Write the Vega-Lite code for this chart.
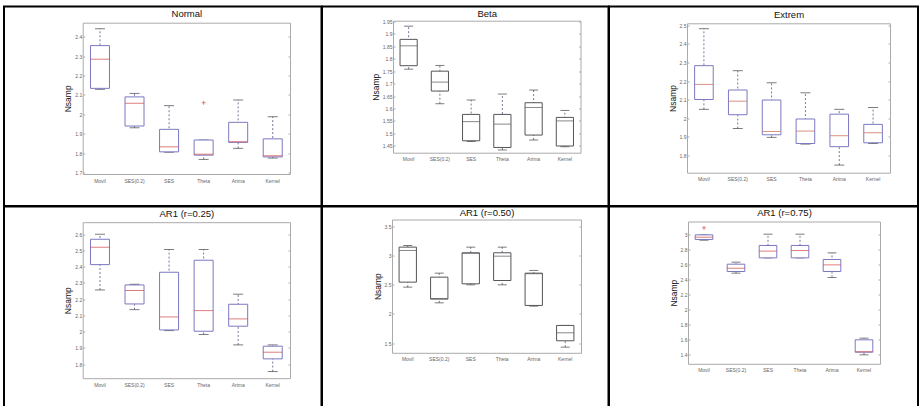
{
  "$schema": "https://vega.github.io/schema/vega-lite/v6.json",
  "padding": {"left": 3, "top": 5.5, "right": 0, "bottom": 0},
  "background": "white",
  "datasets": {
    "boxes": [
      {"panel": "Normal", "method": "Movil", "lw": 2.129, "q1": 2.134, "med": 2.284, "q3": 2.354, "uw": 2.441},
      {"panel": "Normal", "method": "SES(0.2)", "lw": 1.931, "q1": 1.94, "med": 2.057, "q3": 2.09, "uw": 2.108},
      {"panel": "Normal", "method": "SES", "lw": 1.805, "q1": 1.807, "med": 1.833, "q3": 1.923, "uw": 2.045},
      {"panel": "Normal", "method": "Theta", "lw": 1.768, "q1": 1.79, "med": 1.795, "q3": 1.868, "uw": 1.868, "out": 2.06},
      {"panel": "Normal", "method": "Arima", "lw": 1.825, "q1": 1.856, "med": 1.859, "q3": 1.959, "uw": 2.074},
      {"panel": "Normal", "method": "Kernel", "lw": 1.775, "q1": 1.781, "med": 1.787, "q3": 1.874, "uw": 1.988},
      {"panel": "Beta", "method": "Movil", "lw": 1.758, "q1": 1.772, "med": 1.852, "q3": 1.878, "uw": 1.931},
      {"panel": "Beta", "method": "SES(0.2)", "lw": 1.619, "q1": 1.67, "med": 1.706, "q3": 1.75, "uw": 1.773},
      {"panel": "Beta", "method": "SES", "lw": 1.467, "q1": 1.47, "med": 1.547, "q3": 1.576, "uw": 1.634},
      {"panel": "Beta", "method": "Theta", "lw": 1.433, "q1": 1.443, "med": 1.537, "q3": 1.576, "uw": 1.658},
      {"panel": "Beta", "method": "Arima", "lw": 1.473, "q1": 1.493, "med": 1.604, "q3": 1.623, "uw": 1.674},
      {"panel": "Beta", "method": "Kernel", "lw": 1.446, "q1": 1.449, "med": 1.55, "q3": 1.564, "uw": 1.592},
      {"panel": "Extrem", "method": "Movil", "lw": 2.048, "q1": 2.101, "med": 2.182, "q3": 2.283, "uw": 2.482},
      {"panel": "Extrem", "method": "SES(0.2)", "lw": 1.945, "q1": 2.019, "med": 2.092, "q3": 2.152, "uw": 2.256},
      {"panel": "Extrem", "method": "SES", "lw": 1.897, "q1": 1.911, "med": 1.929, "q3": 2.098, "uw": 2.191},
      {"panel": "Extrem", "method": "Theta", "lw": 1.861, "q1": 1.864, "med": 1.931, "q3": 1.996, "uw": 2.137},
      {"panel": "Extrem", "method": "Arima", "lw": 1.748, "q1": 1.847, "med": 1.906, "q3": 2.022, "uw": 2.048},
      {"panel": "Extrem", "method": "Kernel", "lw": 1.864, "q1": 1.868, "med": 1.922, "q3": 1.967, "uw": 2.058},
      {"panel": "AR1 (r=0.25)", "method": "Movil", "lw": 2.257, "q1": 2.413, "med": 2.52, "q3": 2.569, "uw": 2.6},
      {"panel": "AR1 (r=0.25)", "method": "SES(0.2)", "lw": 2.136, "q1": 2.171, "med": 2.253, "q3": 2.288, "uw": 2.292},
      {"panel": "AR1 (r=0.25)", "method": "SES", "lw": 2.007, "q1": 2.011, "med": 2.091, "q3": 2.366, "uw": 2.506},
      {"panel": "AR1 (r=0.25)", "method": "Theta", "lw": 1.983, "q1": 2.003, "med": 2.13, "q3": 2.44, "uw": 2.506},
      {"panel": "AR1 (r=0.25)", "method": "Arima", "lw": 1.919, "q1": 2.034, "med": 2.079, "q3": 2.169, "uw": 2.231},
      {"panel": "AR1 (r=0.25)", "method": "Kernel", "lw": 1.755, "q1": 1.833, "med": 1.874, "q3": 1.911, "uw": 1.919},
      {"panel": "AR1 (r=0.50)", "method": "Movil", "lw": 2.46, "q1": 2.546, "med": 3.089, "q3": 3.146, "uw": 3.174},
      {"panel": "AR1 (r=0.50)", "method": "SES(0.2)", "lw": 2.191, "q1": 2.255, "med": 2.265, "q3": 2.631, "uw": 2.7},
      {"panel": "AR1 (r=0.50)", "method": "SES", "lw": 2.5, "q1": 2.517, "med": 3.04, "q3": 3.049, "uw": 3.146},
      {"panel": "AR1 (r=0.50)", "method": "Theta", "lw": 2.5, "q1": 2.574, "med": 2.991, "q3": 3.049, "uw": 3.146},
      {"panel": "AR1 (r=0.50)", "method": "Arima", "lw": 2.134, "q1": 2.146, "med": 2.69, "q3": 2.7, "uw": 2.746},
      {"panel": "AR1 (r=0.50)", "method": "Kernel", "lw": 1.431, "q1": 1.54, "med": 1.677, "q3": 1.803, "uw": 1.803},
      {"panel": "AR1 (r=0.75)", "method": "Movil", "lw": 2.92, "q1": 2.929, "med": 2.96, "q3": 2.991, "uw": 2.991, "out": 3.084},
      {"panel": "AR1 (r=0.75)", "method": "SES(0.2)", "lw": 2.483, "q1": 2.505, "med": 2.549, "q3": 2.602, "uw": 2.629},
      {"panel": "AR1 (r=0.75)", "method": "SES", "lw": 2.686, "q1": 2.686, "med": 2.775, "q3": 2.85, "uw": 3.0},
      {"panel": "AR1 (r=0.75)", "method": "Theta", "lw": 2.686, "q1": 2.686, "med": 2.783, "q3": 2.85, "uw": 3.0},
      {"panel": "AR1 (r=0.75)", "method": "Arima", "lw": 2.425, "q1": 2.505, "med": 2.593, "q3": 2.664, "uw": 2.752},
      {"panel": "AR1 (r=0.75)", "method": "Kernel", "lw": 1.4, "q1": 1.435, "med": 1.44, "q3": 1.599, "uw": 1.621}
    ]
  },
  "data": {"name": "boxes"},
  "columns": 3,
  "spacing": 0,
  "bounds": "flush",
  "concat": [
    {
      "width": 317.5, "height": 199.5,
      "transform": [{"filter": "datum.panel === 'Normal'"}],
      "resolve": {"axis": {"x": "independent", "y": "independent"}},
      "layer": [
        {"mark": {"type": "rule", "strokeDash": [2, 2], "color": "#77779f"},
         "encoding": {
           "x": {"field": "method", "type": "nominal", "sort": ["Movil", "SES(0.2)", "SES", "Theta", "Arima", "Kernel"], "scale": {"range": [78.7, 286], "paddingInner": 0, "paddingOuter": 0}, "axis": {"orient": "bottom", "offset": -32, "title": null}},
           "y": {"field": "lw", "type": "quantitative", "scale": {"domain": [1.693, 2.472], "range": [167.5, 16.2], "nice": false, "zero": false}, "axis": {"orient": "left", "offset": -78.7, "title": "Nsamp", "values": [1.7, 1.8, 1.9, 2, 2.1, 2.2, 2.3, 2.4], "format": "~g"}},
           "y2": {"field": "uw"}}},
        {"mark": {"type": "tick", "size": 10, "color": "#444"},
         "encoding": {
           "x": {"field": "method", "type": "nominal", "sort": ["Movil", "SES(0.2)", "SES", "Theta", "Arima", "Kernel"], "axis": {"orient": "top", "offset": -16.2, "title": "Normal", "titlePadding": 4}},
           "y": {"field": "lw", "type": "quantitative", "axis": {"orient": "right", "offset": -31.5, "title": null, "values": [1.7, 1.8, 1.9, 2, 2.1, 2.2, 2.3, 2.4]}}}},
        {"mark": {"type": "tick", "size": 10, "color": "#444"},
         "encoding": {
           "x": {"field": "method", "type": "nominal", "sort": ["Movil", "SES(0.2)", "SES", "Theta", "Arima", "Kernel"], "axis": null},
           "y": {"field": "uw", "type": "quantitative", "axis": null}}},
        {"mark": {"type": "bar", "fill": "white", "stroke": "#7b78c2", "strokeWidth": 1, "width": {"band": 0.55}},
         "encoding": {
           "x": {"field": "method", "type": "nominal", "sort": ["Movil", "SES(0.2)", "SES", "Theta", "Arima", "Kernel"], "axis": null},
           "y": {"field": "q1", "type": "quantitative", "axis": null},
           "y2": {"field": "q3"}}},
        {"mark": {"type": "tick", "size": 19, "color": "#d04545"},
         "encoding": {
           "x": {"field": "method", "type": "nominal", "sort": ["Movil", "SES(0.2)", "SES", "Theta", "Arima", "Kernel"], "axis": null},
           "y": {"field": "med", "type": "quantitative", "axis": null}}},
        {"mark": {"type": "point", "shape": "M-1,0L1,0M0,-1L0,1", "size": 16, "filled": false, "color": "#d04545", "strokeWidth": 1},
         "encoding": {
           "x": {"field": "method", "type": "nominal", "sort": ["Movil", "SES(0.2)", "SES", "Theta", "Arima", "Kernel"], "axis": null},
           "y": {"field": "out", "type": "quantitative", "axis": null}}}
      ]
    },
    {
      "width": 286.5, "height": 199.5,
      "transform": [{"filter": "datum.panel === 'Beta'"}],
      "resolve": {"axis": {"x": "independent", "y": "independent"}},
      "layer": [
        {"mark": {"type": "rule", "strokeDash": [2, 2], "color": "#77779f"},
         "encoding": {
           "x": {"field": "method", "type": "nominal", "sort": ["Movil", "SES(0.2)", "SES", "Theta", "Arima", "Kernel"], "scale": {"range": [71, 258.5], "paddingInner": 0, "paddingOuter": 0}, "axis": {"orient": "bottom", "offset": -53.3, "title": null}},
           "y": {"field": "lw", "type": "quantitative", "scale": {"domain": [1.422, 1.953], "range": [146.2, 14.2], "nice": false, "zero": false}, "axis": {"orient": "left", "offset": -71, "title": "Nsamp", "values": [1.45, 1.5, 1.55, 1.6, 1.65, 1.7, 1.75, 1.8, 1.85, 1.9, 1.95], "format": "~g"}},
           "y2": {"field": "uw"}}},
        {"mark": {"type": "tick", "size": 9, "color": "#444"},
         "encoding": {
           "x": {"field": "method", "type": "nominal", "sort": ["Movil", "SES(0.2)", "SES", "Theta", "Arima", "Kernel"], "axis": {"orient": "top", "offset": -14.2, "title": "Beta", "titlePadding": 2}},
           "y": {"field": "lw", "type": "quantitative", "axis": {"orient": "right", "offset": -28, "title": null, "values": [1.45, 1.5, 1.55, 1.6, 1.65, 1.7, 1.75, 1.8, 1.85, 1.9, 1.95]}}}},
        {"mark": {"type": "tick", "size": 9, "color": "#444"},
         "encoding": {
           "x": {"field": "method", "type": "nominal", "sort": ["Movil", "SES(0.2)", "SES", "Theta", "Arima", "Kernel"], "axis": null},
           "y": {"field": "uw", "type": "quantitative", "axis": null}}},
        {"mark": {"type": "bar", "fill": "white", "stroke": "#555", "strokeWidth": 1, "width": {"band": 0.55}},
         "encoding": {
           "x": {"field": "method", "type": "nominal", "sort": ["Movil", "SES(0.2)", "SES", "Theta", "Arima", "Kernel"], "axis": null},
           "y": {"field": "q1", "type": "quantitative", "axis": null},
           "y2": {"field": "q3"}}},
        {"mark": {"type": "tick", "size": 17, "color": "#555"},
         "encoding": {
           "x": {"field": "method", "type": "nominal", "sort": ["Movil", "SES(0.2)", "SES", "Theta", "Arima", "Kernel"], "axis": null},
           "y": {"field": "med", "type": "quantitative", "axis": null}}}
      ]
    },
    {
      "width": 309, "height": 199.5,
      "transform": [{"filter": "datum.panel === 'Extrem'"}],
      "resolve": {"axis": {"x": "independent", "y": "independent"}},
      "layer": [
        {"mark": {"type": "rule", "strokeDash": [2, 2], "color": "#77779f"},
         "encoding": {
           "x": {"field": "method", "type": "nominal", "sort": ["Movil", "SES(0.2)", "SES", "Theta", "Arima", "Kernel"], "scale": {"range": [78, 281], "paddingInner": 0, "paddingOuter": 0}, "axis": {"orient": "bottom", "offset": -33.3, "title": null}},
           "y": {"field": "lw", "type": "quantitative", "scale": {"domain": [1.707, 2.511], "range": [166.2, 16.8], "nice": false, "zero": false}, "axis": {"orient": "left", "offset": -78, "title": "Nsamp", "values": [1.8, 1.9, 2, 2.1, 2.2, 2.3, 2.4, 2.5], "format": "~g"}},
           "y2": {"field": "uw"}}},
        {"mark": {"type": "tick", "size": 10, "color": "#444"},
         "encoding": {
           "x": {"field": "method", "type": "nominal", "sort": ["Movil", "SES(0.2)", "SES", "Theta", "Arima", "Kernel"], "axis": {"orient": "top", "offset": -16.8, "title": "Extrem", "titlePadding": 3.5}},
           "y": {"field": "lw", "type": "quantitative", "axis": {"orient": "right", "offset": -28, "title": null, "values": [1.8, 1.9, 2, 2.1, 2.2, 2.3, 2.4, 2.5]}}}},
        {"mark": {"type": "tick", "size": 10, "color": "#444"},
         "encoding": {
           "x": {"field": "method", "type": "nominal", "sort": ["Movil", "SES(0.2)", "SES", "Theta", "Arima", "Kernel"], "axis": null},
           "y": {"field": "uw", "type": "quantitative", "axis": null}}},
        {"mark": {"type": "bar", "fill": "white", "stroke": "#7b78c2", "strokeWidth": 1, "width": {"band": 0.55}},
         "encoding": {
           "x": {"field": "method", "type": "nominal", "sort": ["Movil", "SES(0.2)", "SES", "Theta", "Arima", "Kernel"], "axis": null},
           "y": {"field": "q1", "type": "quantitative", "axis": null},
           "y2": {"field": "q3"}}},
        {"mark": {"type": "tick", "size": 18, "color": "#c8644a"},
         "encoding": {
           "x": {"field": "method", "type": "nominal", "sort": ["Movil", "SES(0.2)", "SES", "Theta", "Arima", "Kernel"], "axis": null},
           "y": {"field": "med", "type": "quantitative", "axis": null}}}
      ]
    },
    {
      "width": 317.5, "height": 210,
      "transform": [{"filter": "datum.panel === 'AR1 (r=0.25)'"}],
      "resolve": {"axis": {"x": "independent", "y": "independent"}},
      "layer": [
        {"mark": {"type": "rule", "strokeDash": [2, 2], "color": "#77779f"},
         "encoding": {
           "x": {"field": "method", "type": "nominal", "sort": ["Movil", "SES(0.2)", "SES", "Theta", "Arima", "Kernel"], "scale": {"range": [78.7, 286], "paddingInner": 0, "paddingOuter": 0}, "axis": {"orient": "bottom", "offset": -38.3, "title": null}},
           "y": {"field": "lw", "type": "quantitative", "scale": {"domain": [1.714, 2.674], "range": [171.7, 15.7], "nice": false, "zero": false}, "axis": {"orient": "left", "offset": -78.7, "title": "Nsamp", "values": [1.8, 1.9, 2, 2.1, 2.2, 2.3, 2.4, 2.5, 2.6], "format": "~g"}},
           "y2": {"field": "uw"}}},
        {"mark": {"type": "tick", "size": 10, "color": "#444"},
         "encoding": {
           "x": {"field": "method", "type": "nominal", "sort": ["Movil", "SES(0.2)", "SES", "Theta", "Arima", "Kernel"], "axis": {"orient": "top", "offset": -15.7, "title": "AR1 (r=0.25)", "titlePadding": 3.5}},
           "y": {"field": "lw", "type": "quantitative", "axis": {"orient": "right", "offset": -31.5, "title": null, "values": [1.8, 1.9, 2, 2.1, 2.2, 2.3, 2.4, 2.5, 2.6]}}}},
        {"mark": {"type": "tick", "size": 10, "color": "#444"},
         "encoding": {
           "x": {"field": "method", "type": "nominal", "sort": ["Movil", "SES(0.2)", "SES", "Theta", "Arima", "Kernel"], "axis": null},
           "y": {"field": "uw", "type": "quantitative", "axis": null}}},
        {"mark": {"type": "bar", "fill": "white", "stroke": "#7b78c2", "strokeWidth": 1, "width": {"band": 0.55}},
         "encoding": {
           "x": {"field": "method", "type": "nominal", "sort": ["Movil", "SES(0.2)", "SES", "Theta", "Arima", "Kernel"], "axis": null},
           "y": {"field": "q1", "type": "quantitative", "axis": null},
           "y2": {"field": "q3"}}},
        {"mark": {"type": "tick", "size": 19, "color": "#d04545"},
         "encoding": {
           "x": {"field": "method", "type": "nominal", "sort": ["Movil", "SES(0.2)", "SES", "Theta", "Arima", "Kernel"], "axis": null},
           "y": {"field": "med", "type": "quantitative", "axis": null}}}
      ]
    },
    {
      "width": 286.5, "height": 210,
      "transform": [{"filter": "datum.panel === 'AR1 (r=0.50)'"}],
      "resolve": {"axis": {"x": "independent", "y": "independent"}},
      "layer": [
        {"mark": {"type": "rule", "strokeDash": [2, 2], "color": "#77779f"},
         "encoding": {
           "x": {"field": "method", "type": "nominal", "sort": ["Movil", "SES(0.2)", "SES", "Theta", "Arima", "Kernel"], "scale": {"range": [70, 259], "paddingInner": 0, "paddingOuter": 0}, "axis": {"orient": "bottom", "offset": -63.7, "title": null}},
           "y": {"field": "lw", "type": "quantitative", "scale": {"domain": [1.334, 3.62], "range": [146.3, 13], "nice": false, "zero": false}, "axis": {"orient": "left", "offset": -70, "title": "Nsamp", "values": [1.5, 2, 2.5, 3, 3.5], "format": "~g"}},
           "y2": {"field": "uw"}}},
        {"mark": {"type": "tick", "size": 9, "color": "#444"},
         "encoding": {
           "x": {"field": "method", "type": "nominal", "sort": ["Movil", "SES(0.2)", "SES", "Theta", "Arima", "Kernel"], "axis": {"orient": "top", "offset": -13, "title": "AR1 (r=0.50)", "titlePadding": 2}},
           "y": {"field": "lw", "type": "quantitative", "axis": {"orient": "right", "offset": -27.5, "title": null, "values": [1.5, 2, 2.5, 3, 3.5]}}}},
        {"mark": {"type": "tick", "size": 9, "color": "#444"},
         "encoding": {
           "x": {"field": "method", "type": "nominal", "sort": ["Movil", "SES(0.2)", "SES", "Theta", "Arima", "Kernel"], "axis": null},
           "y": {"field": "uw", "type": "quantitative", "axis": null}}},
        {"mark": {"type": "bar", "fill": "white", "stroke": "#555", "strokeWidth": 1, "width": {"band": 0.55}},
         "encoding": {
           "x": {"field": "method", "type": "nominal", "sort": ["Movil", "SES(0.2)", "SES", "Theta", "Arima", "Kernel"], "axis": null},
           "y": {"field": "q1", "type": "quantitative", "axis": null},
           "y2": {"field": "q3"}}},
        {"mark": {"type": "tick", "size": 17, "color": "#555"},
         "encoding": {
           "x": {"field": "method", "type": "nominal", "sort": ["Movil", "SES(0.2)", "SES", "Theta", "Arima", "Kernel"], "axis": null},
           "y": {"field": "med", "type": "quantitative", "axis": null}}}
      ]
    },
    {
      "width": 309, "height": 210,
      "transform": [{"filter": "datum.panel === 'AR1 (r=0.75)'"}],
      "resolve": {"axis": {"x": "independent", "y": "independent"}},
      "layer": [
        {"mark": {"type": "rule", "strokeDash": [2, 2], "color": "#77779f"},
         "encoding": {
           "x": {"field": "method", "type": "nominal", "sort": ["Movil", "SES(0.2)", "SES", "Theta", "Arima", "Kernel"], "scale": {"range": [79, 271], "paddingInner": 0, "paddingOuter": 0}, "axis": {"orient": "bottom", "offset": -52.7, "title": null}},
           "y": {"field": "lw", "type": "quantitative", "scale": {"domain": [1.281, 3.168], "range": [157.3, 15], "nice": false, "zero": false}, "axis": {"orient": "left", "offset": -79, "title": "Nsamp", "values": [1.4, 1.6, 1.8, 2, 2.2, 2.4, 2.6, 2.8, 3], "format": "~g"}},
           "y2": {"field": "uw"}}},
        {"mark": {"type": "tick", "size": 9, "color": "#444"},
         "encoding": {
           "x": {"field": "method", "type": "nominal", "sort": ["Movil", "SES(0.2)", "SES", "Theta", "Arima", "Kernel"], "axis": {"orient": "top", "offset": -15, "title": "AR1 (r=0.75)", "titlePadding": 4.5}},
           "y": {"field": "lw", "type": "quantitative", "axis": {"orient": "right", "offset": -38, "title": null, "values": [1.4, 1.6, 1.8, 2, 2.2, 2.4, 2.6, 2.8, 3]}}}},
        {"mark": {"type": "tick", "size": 9, "color": "#444"},
         "encoding": {
           "x": {"field": "method", "type": "nominal", "sort": ["Movil", "SES(0.2)", "SES", "Theta", "Arima", "Kernel"], "axis": null},
           "y": {"field": "uw", "type": "quantitative", "axis": null}}},
        {"mark": {"type": "bar", "fill": "white", "stroke": "#7b78c2", "strokeWidth": 1, "width": {"band": 0.55}},
         "encoding": {
           "x": {"field": "method", "type": "nominal", "sort": ["Movil", "SES(0.2)", "SES", "Theta", "Arima", "Kernel"], "axis": null},
           "y": {"field": "q1", "type": "quantitative", "axis": null},
           "y2": {"field": "q3"}}},
        {"mark": {"type": "tick", "size": 17.6, "color": "#d04545"},
         "encoding": {
           "x": {"field": "method", "type": "nominal", "sort": ["Movil", "SES(0.2)", "SES", "Theta", "Arima", "Kernel"], "axis": null},
           "y": {"field": "med", "type": "quantitative", "axis": null}}},
        {"mark": {"type": "point", "shape": "M-1,0L1,0M0,-1L0,1", "size": 16, "filled": false, "color": "#d04545", "strokeWidth": 1},
         "encoding": {
           "x": {"field": "method", "type": "nominal", "sort": ["Movil", "SES(0.2)", "SES", "Theta", "Arima", "Kernel"], "axis": null},
           "y": {"field": "out", "type": "quantitative", "axis": null}}}
      ]
    }
  ],
  "config": {
    "view": {"stroke": "black", "strokeWidth": 2},
    "tick": {"thickness": 1},
    "axis": {"grid": false, "domainColor": "#aaaaaa", "tickColor": "#aaaaaa", "labelFont": "Liberation Sans", "labelFontSize": 5, "labelColor": "#666666", "titleFont": "Liberation Sans", "titleFontWeight": "normal", "titleColor": "#111111"},
    "axisLeft": {"tickSize": -2, "labelPadding": 3, "titlePadding": 2, "titleFontSize": 8.5},
    "axisRight": {"tickSize": -2, "labels": false},
    "axisTop": {"ticks": false, "labels": false, "titleFontSize": 9.5, "titleBaseline": "bottom"},
    "axisBottom": {"ticks": false, "labelAngle": 0, "labelPadding": 4}
  }
}
